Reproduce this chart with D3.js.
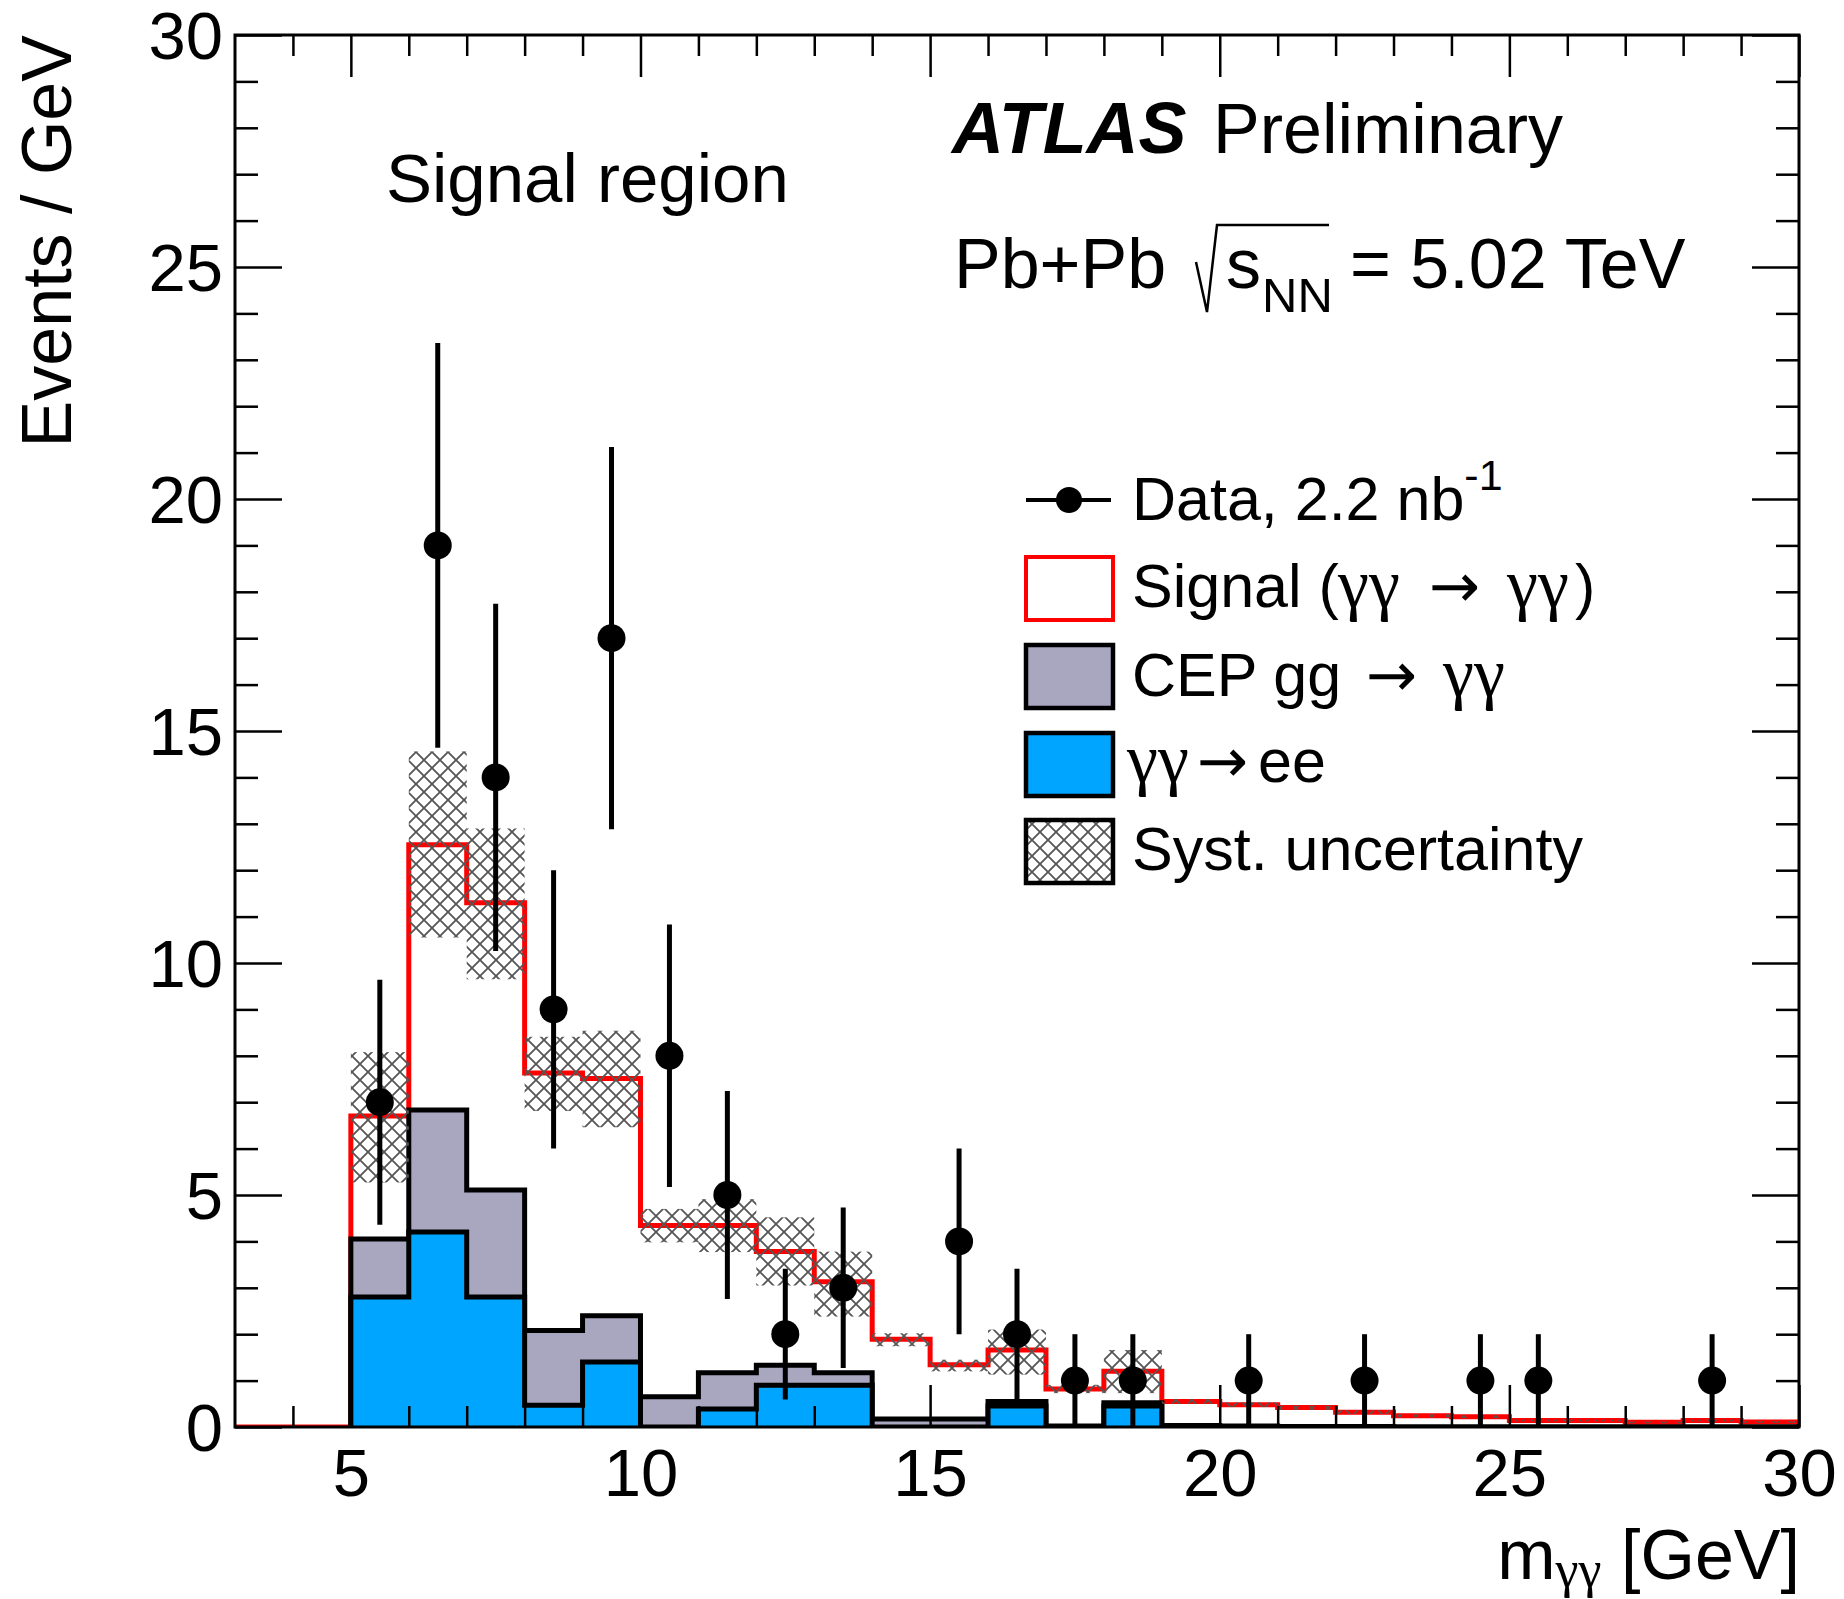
<!DOCTYPE html>
<html><head><meta charset="utf-8">
<script src="https://cdn.jsdelivr.net/npm/d3@7"></script>
<style>
body{margin:0;background:#fff}
svg{display:block}
text{font-family:"Liberation Sans",Arial,Helvetica,sans-serif;fill:#000}
.greek{font-family:"Liberation Serif","DejaVu Serif",serif}
.arrow{font-family:"DejaVu Sans",sans-serif}
</style>
</head><body>
<svg id="chart" width="1844" height="1599"></svg>
<script>
// ---------- data ----------
const binLow = [5,6,7,8,9,10,11,12,13,14,15,16,17,18,19,20,21,22,23,24,25,26,27,28,29];
const binWidth = 1;
const eeValues = [2.80,4.20,2.80,0.47,1.40,0.00,0.39,0.90,0.90,0,0,0.45,0,0.45,0,0,0,0,0,0,0,0,0,0,0];
const cepValues = [1.25,2.63,2.31,1.61,1.00,0.65,0.78,0.43,0.27,0.17,0.17,0.10,0.02,0.07,0.03,0.02,0.01,0.01,0,0,0,0,0,0,0];
const signalValues = [2.65,5.72,6.19,5.55,5.11,3.69,3.17,2.45,1.96,1.72,1.17,1.11,0.80,0.68,0.52,0.46,0.41,0.31,0.24,0.22,0.14,0.14,0.10,0.14,0.11];
const systLow = [5.27,10.55,9.65,6.81,6.46,3.98,3.77,3.05,2.38,1.74,1.20,1.13,0.73,0.73,0.50,0.43,0.37,0.28,0.21,0.19,0.12,0.12,0.08,0.12,0.09];
const systHigh = [8.08,14.56,12.90,8.41,8.54,4.70,4.91,4.52,3.78,2.02,1.45,2.10,0.91,1.66,0.60,0.53,0.46,0.36,0.27,0.25,0.16,0.16,0.12,0.16,0.13];
const dataX = [5.5,6.5,7.5,8.5,9.5,10.5,11.5,12.5,13.5,15.5,16.5,17.5,18.5,20.5,22.5,24.5,25.5,28.5];
const dataY = [7,19,14,9,17,8,5,2,3,4,2,1,1,1,1,1,1,1];
const dataErr = [2.64,4.36,3.74,3.00,4.12,2.83,2.24,1.41,1.73,2.00,1.41,1,1,1,1,1,1,1];
const xMajorTicks = [5,10,15,20,25,30];
const xMinorTicks = [4,6,7,8,9,11,12,13,14,16,17,18,19,21,22,23,24,26,27,28,29];
const yMajorTicks = [0,5,10,15,20,25,30];
const yMinorTicks = [1,2,3,4,6,7,8,9,11,12,13,14,16,17,18,19,21,22,23,24,26,27,28,29];
const xDomain = [3,30];
const yDomain = [0,30];

// ---------- layout ----------
const W = 1844, H = 1599;
const m = {left:235, right:45, top:35, bottom:172};
const svg = d3.select("#chart");
const x = d3.scaleLinear().domain(xDomain).range([m.left, W - m.right]);
const y = d3.scaleLinear().domain(yDomain).range([H - m.bottom, m.top]);

const defs = svg.append("defs");
const pat = defs.append("pattern").attr("id","hatch").attr("patternUnits","userSpaceOnUse")
  .attr("width",16).attr("height",16);
pat.append("path").attr("d","M-2,-2L18,18M18,-2L-2,18").attr("stroke","#555").attr("stroke-width",1.8).attr("fill","none");
defs.append("clipPath").attr("id","plotclip").append("rect")
  .attr("x",m.left).attr("y",m.top).attr("width",W-m.left-m.right).attr("height",H-m.top-m.bottom);

// stacked rows
const rows = binLow.map((b,i)=>({x:b, ee:eeValues[i], cep:cepValues[i], signal:signalValues[i]}));
const stack = d3.stack().keys(["ee","cep","signal"]);
const layers = stack(rows);
function stepPoints(layer, startX){
  const pts = [];
  if (startX !== undefined) pts.push([startX, 0]);
  pts.push([binLow[0], 0]);
  layer.forEach((d,i)=>pts.push([binLow[i], d[1]]));
  pts.push([binLow[binLow.length-1]+binWidth, layer[layer.length-1][1]]);
  pts.push([binLow[binLow.length-1]+binWidth, 0]);
  return pts;
}
const line = d3.line().x(d=>x(d[0])).y(d=>y(d[1])).curve(d3.curveLinear);
function stepPath(pts){
  const out=[];
  for(let i=0;i<pts.length;i++){
    if(i>0) out.push([pts[i][0], pts[i-1][1]]);
    out.push(pts[i]);
  }
  return out;
}
const g = svg.append("g").attr("clip-path","url(#plotclip)");

// signal (total) red outline
const totalPts = stepPath(stepPoints(layers[2], xDomain[0]));
g.append("path").attr("d", line(totalPts)).attr("fill","#fff").attr("stroke","#ff0000").attr("stroke-width",5);
// CEP (gray)
const cepPts = stepPath(stepPoints(layers[1]));
g.append("path").attr("d", line(cepPts)).attr("fill","#a9a6c0").attr("stroke","#000").attr("stroke-width",5).attr("stroke-linejoin","miter");
// ee (blue)
const eePts = stepPath(stepPoints(layers[0]));
g.append("path").attr("d", line(eePts)).attr("fill","#00a5ff").attr("stroke","#000").attr("stroke-width",5).attr("stroke-linejoin","miter");

// syst uncertainty
g.selectAll("rect.syst").data(binLow).join("rect").attr("class","syst")
  .attr("x",(d)=>x(d)).attr("width",(d)=>x(d+binWidth)-x(d))
  .attr("y",(d,i)=>y(systHigh[i])).attr("height",(d,i)=>y(systLow[i])-y(systHigh[i]))
  .attr("fill","url(#hatch)");

// data
const pts = dataX.map((v,i)=>({x:v,y:dataY[i],e:dataErr[i]}));
g.selectAll("line.err").data(pts).join("line").attr("class","err")
  .attr("x1",d=>x(d.x)).attr("x2",d=>x(d.x))
  .attr("y1",d=>y(Math.max(0,d.y-d.e))).attr("y2",d=>y(d.y+d.e))
  .attr("stroke","#000").attr("stroke-width",5);
g.selectAll("circle.dat").data(pts).join("circle").attr("class","dat")
  .attr("cx",d=>x(d.x)).attr("cy",d=>y(d.y)).attr("r",14).attr("fill","#000");

// ---------- axes ----------
const tickW = 2.5;
function styleAxis(sel){
  sel.select(".domain").remove();
  sel.selectAll(".tick line").attr("stroke","#000").attr("stroke-width",tickW);
  sel.selectAll(".tick text").attr("font-size",67).attr("font-family",'"Liberation Sans",Arial,sans-serif').attr("fill","#000");
}
const yB = H - m.bottom;
svg.append("g").attr("transform",`translate(0,${yB})`)
  .call(d3.axisBottom(x).tickValues(xMinorTicks).tickSize(-21).tickFormat("")).call(styleAxis);
svg.append("g").attr("transform",`translate(0,${yB})`)
  .call(d3.axisBottom(x).tickValues(xMajorTicks).tickSize(-42).tickPadding(21).tickFormat(d3.format("d"))).call(styleAxis);
svg.append("g").attr("transform",`translate(0,${m.top})`)
  .call(d3.axisTop(x).tickValues(xMinorTicks).tickSize(-21).tickFormat("")).call(styleAxis);
svg.append("g").attr("transform",`translate(0,${m.top})`)
  .call(d3.axisTop(x).tickValues(xMajorTicks).tickSize(-42).tickFormat("")).call(styleAxis);
svg.append("g").attr("transform",`translate(${m.left},0)`)
  .call(d3.axisLeft(y).tickValues(yMinorTicks).tickSize(-23).tickFormat("")).call(styleAxis);
const yl = svg.append("g").attr("transform",`translate(${m.left},0)`)
  .call(d3.axisLeft(y).tickValues(yMajorTicks).tickSize(-47).tickPadding(12).tickFormat(d3.format("d"))).call(styleAxis);
yl.selectAll(".tick text").attr("dy","0.35em");
svg.append("g").attr("transform",`translate(${W-m.right},0)`)
  .call(d3.axisRight(y).tickValues(yMinorTicks).tickSize(-23).tickFormat("")).call(styleAxis);
svg.append("g").attr("transform",`translate(${W-m.right},0)`)
  .call(d3.axisRight(y).tickValues(yMajorTicks).tickSize(-47).tickFormat("")).call(styleAxis);

svg.append("rect").attr("x",m.left).attr("y",m.top).attr("width",W-m.left-m.right).attr("height",H-m.top-m.bottom)
  .attr("fill","none").attr("stroke","#000").attr("stroke-width",3);

// axis titles
svg.append("text").attr("transform",`translate(71,${m.top}) rotate(-90)`).attr("text-anchor","end")
  .attr("font-size",70).text("Events / GeV");
const xt = svg.append("text").attr("x",W-m.right+1).attr("y",1579).attr("text-anchor","end").attr("font-size",70);
xt.append("tspan").text("m");
xt.append("tspan").attr("class","greek").attr("font-size",52).attr("dy",8).text("γγ");
xt.append("tspan").attr("dy",-8).text(" [GeV]");

// annotations
svg.append("text").attr("x",386).attr("y",202).attr("font-size",69).text("Signal region");
svg.append("text").attr("x",952).attr("y",153).attr("font-size",72).attr("font-weight","bold").attr("font-style","italic").text("ATLAS");
svg.append("text").attr("x",1213).attr("y",153).attr("font-size",70).text("Preliminary");
svg.append("text").attr("x",954).attr("y",288).attr("font-size",70).text("Pb+Pb");
svg.append("path").attr("d","M1196,262L1207,312L1217,225L1329,225").attr("fill","none").attr("stroke","#000").attr("stroke-width",2.5);
svg.append("text").attr("x",1226).attr("y",288).attr("font-size",70).text("s");
svg.append("text").attr("x",1262).attr("y",312).attr("font-size",49).text("NN");
svg.append("text").attr("x",1350).attr("y",288).attr("font-size",70).text("= 5.02 TeV");

// legend
const lg = svg.append("g");
const lx0 = 1026, lx1 = 1113, fs = 61, gfs = 70;
lg.append("line").attr("x1",lx0).attr("x2",lx1-2).attr("y1",500).attr("y2",500).attr("stroke","#000").attr("stroke-width",4);
lg.append("circle").attr("cx",1069).attr("cy",500).attr("r",13).attr("fill","#000");
const t1 = lg.append("text").attr("x",1132).attr("y",520).attr("font-size",fs);
t1.append("tspan").text("Data, 2.2 nb");
t1.append("tspan").attr("font-size",43).attr("dy",-30).text("-1");

lg.append("rect").attr("x",lx0).attr("y",557).attr("width",lx1-lx0).attr("height",63).attr("fill","#fff").attr("stroke","#ff0000").attr("stroke-width",4);
const t2 = lg.append("text").attr("y",607).attr("font-size",fs);
t2.append("tspan").attr("x",1132).text("Signal (");
t2.append("tspan").attr("x",1338).attr("class","greek").attr("font-size",gfs).text("γγ");
t2.append("tspan").attr("x",1429).attr("class","arrow").text("→");
t2.append("tspan").attr("x",1507).attr("class","greek").attr("font-size",gfs).text("γγ");
t2.append("tspan").attr("x",1575).text(")");

lg.append("rect").attr("x",lx0).attr("y",645).attr("width",lx1-lx0).attr("height",63).attr("fill","#a9a6c0").attr("stroke","#000").attr("stroke-width",4.5);
const t3 = lg.append("text").attr("y",696).attr("font-size",fs);
t3.append("tspan").attr("x",1132).text("CEP gg");
t3.append("tspan").attr("x",1366).attr("class","arrow").text("→");
t3.append("tspan").attr("x",1443).attr("class","greek").attr("font-size",gfs).text("γγ");

lg.append("rect").attr("x",lx0).attr("y",733).attr("width",lx1-lx0).attr("height",63).attr("fill","#00a5ff").attr("stroke","#000").attr("stroke-width",4.5);
const t4 = lg.append("text").attr("y",782).attr("font-size",fs);
t4.append("tspan").attr("x",1127).attr("class","greek").attr("font-size",gfs).text("γγ");
t4.append("tspan").attr("x",1197).attr("class","arrow").text("→");
t4.append("tspan").attr("x",1258).text("ee");

lg.append("rect").attr("x",lx0).attr("y",820).attr("width",lx1-lx0).attr("height",63).attr("fill","url(#hatch)").attr("stroke","#000").attr("stroke-width",4.5);
lg.append("text").attr("x",1132).attr("y",870).attr("font-size",fs).text("Syst. uncertainty");
</script>
</body></html>
